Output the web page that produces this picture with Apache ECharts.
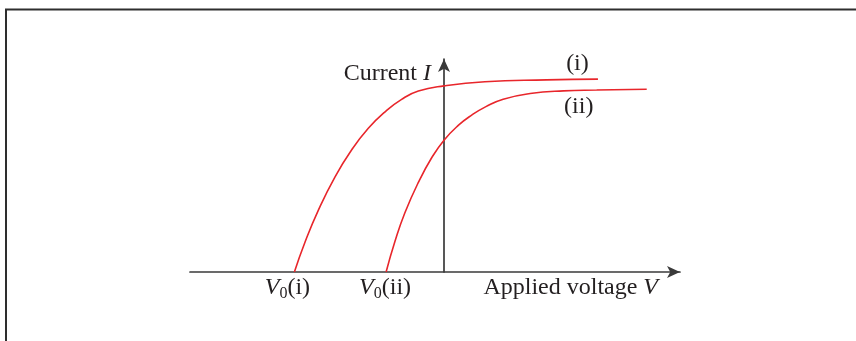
<!DOCTYPE html>
<html>
<head>
<meta charset="utf-8">
<script src="https://cdn.jsdelivr.net/npm/echarts@6/dist/echarts.min.js"></script>
<style>
  html, body { margin: 0; padding: 0; background: #ffffff; }
  #chart { width: 856px; height: 341px; }
</style>
</head>
<body>
<div id="chart"></div>
<script>
// Photoelectric current I against applied voltage V for two light sources.
const voltageI  = [-5.89, -5.47, -4.95, -4.29, -3.63, -2.98, -2.32, -1.67, -1.01, 0.00, 1.61, 4.04, 6.06];
const currentI  = [0.00, 1.45, 2.98, 4.60, 5.91, 6.94, 7.74, 8.34, 8.74, 8.99, 9.19, 9.28, 9.32];
const voltageII = [-2.28, -1.93, -1.54, -1.01, -0.48, 0.00, 0.56, 1.09, 1.65, 2.33, 3.39, 4.70, 6.01, 7.98];
const currentII = [0.00, 1.48, 2.86, 4.33, 5.53, 6.37, 7.08, 7.58, 7.99, 8.35, 8.62, 8.75, 8.79, 8.83];
const curveNames = ['(i)', '(ii)'];
const axisTitles = ['Applied voltage', 'Current'];
const axisSymbols = ['V', 'I'];

const RED = '#e8262b';
const INK = '#231f20';
const AXIS = '#3a3a3a';
const FONT = '"Liberation Serif", "DejaVu Serif", serif';

const pairs = (xs, ys) => xs.map((x, i) => [x, ys[i]]);

const chart = echarts.init(document.getElementById('chart'), null, { renderer: 'canvas' });

const axisLineStyle = { color: AXIS, width: 1.7 };

chart.setOption({
  animation: false,
  backgroundColor: '#ffffff',
  grid: { left: 190, top: 59, width: 490, height: 213, containLabel: false },
  xAxis: {
    type: 'value', min: -10, max: 9.29,
    axisLine: { onZero: true, lineStyle: axisLineStyle, symbol: ['none', 'arrow'], symbolSize: [9, 13] },
    axisTick: { show: false }, axisLabel: { show: false }, splitLine: { show: false }
  },
  yAxis: {
    type: 'value', min: 0, max: 10.29,
    axisLine: { show: true, onZero: true, lineStyle: axisLineStyle, symbol: ['none', 'arrow'], symbolSize: [9, 13] },
    axisTick: { show: false }, axisLabel: { show: false }, splitLine: { show: false }
  },
  series: [
    {
      name: curveNames[0], type: 'line', data: pairs(voltageI, currentI),
      showSymbol: false, smooth: 0.5,
      lineStyle: { color: RED, width: 1.6 }, z: 1
    },
    {
      name: curveNames[1], type: 'line', data: pairs(voltageII, currentII),
      showSymbol: false, smooth: 0.5,
      lineStyle: { color: RED, width: 1.6 }, z: 1
    }
  ]
});

// Text annotations placed relative to points on the axes and curves.
const px = (x, y) => chart.convertToPixel({ gridIndex: 0 }, [x, y]);

const baseText = { fontFamily: FONT, fontSize: 24, fill: INK };
const rich = {
  it:  { fontFamily: FONT, fontSize: 24, fontStyle: 'italic', color: INK, lineHeight: 28 },
  rm:  { fontFamily: FONT, fontSize: 24, color: INK, lineHeight: 28 },
  sub: { fontFamily: FONT, fontSize: 16, color: INK, lineHeight: 14, verticalAlign: 'bottom' }
};

function label(x, y, text, align, useRich) {
  const style = Object.assign({}, baseText, { text: text, align: align, verticalAlign: 'middle' });
  if (useRich) style.rich = rich;
  return { type: 'text', x: x, y: y, style: style, z: 10 };
}

const origin = px(0, 0);
const v0i = px(voltageI[0], 0);
const v0ii = px(voltageII[0], 0);
const endI = px(voltageI[voltageI.length - 1], currentI[currentI.length - 1]);
const endII = px(voltageII[voltageII.length - 1], currentII[currentII.length - 1]);

chart.setOption({
  graphic: [
    // frame
    { type: 'rect', shape: { x: 6, y: 9.5, width: 900, height: 400 },
      style: { fill: 'none', stroke: '#2e2e2e', lineWidth: 2 }, silent: true },
    label(origin[0] - 13, 74, '{rm|' + axisTitles[1] + ' }{it|' + axisSymbols[1] + '}', 'right', true),
    label(origin[0] + 214, origin[1] + 16, '{rm|' + axisTitles[0] + ' }{it|' + axisSymbols[0] + '}', 'right', true),
    label(v0i[0] - 7, v0i[1] + 16, '{it|V}{sub|0}{rm|' + curveNames[0] + '}', 'center', true),
    label(v0ii[0] - 1, v0ii[1] + 16, '{it|V}{sub|0}{rm|' + curveNames[1] + '}', 'center', true),
    label(endI[0] - 20.5, endI[1] - 15, curveNames[0], 'center', false),
    label(endII[0] - 68, endII[1] + 17, curveNames[1], 'center', false)
  ]
});
</script>
</body>
</html>
